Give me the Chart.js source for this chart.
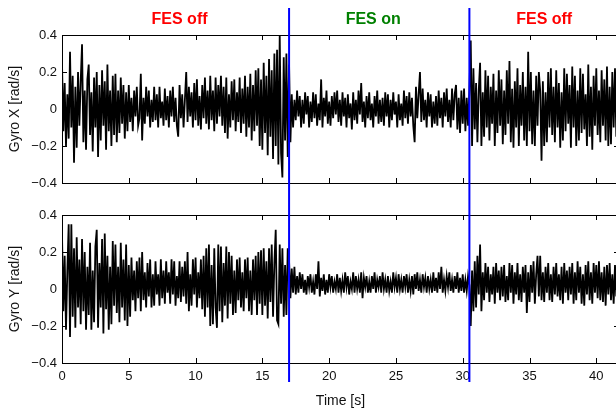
<!DOCTYPE html>
<html>
<head>
<meta charset="utf-8">
<script src="https://cdn.jsdelivr.net/npm/chart.js@4"></script>
<style>
html, body { margin: 0; padding: 0; background: #fff; overflow: hidden; width: 616px; height: 410px; }
.panel { position: absolute; left: 0; }
#top { top: 0; }
#bottom { top: 200px; }
</style>
</head>
<body>
<div class="panel" id="top"><canvas id="gyroX" width="624" height="200"></canvas></div>
<div class="panel" id="bottom"><canvas id="gyroY" width="624" height="210"></canvas></div>
<script>
// sample step of the traces [s]
const dt = 0.1

// Gyro X [rad/s], one row per second
const gyroX = [
    0.25,-0.12,0.14,-0.2,0.08,-0.16,0.31,-0.1,0.18,-0.29,
    0.12,-0.21,0.2,-0.09,0.15,0.35,-0.18,0.1,-0.22,0.16,
    0.24,-0.14,0.09,-0.23,0.17,-0.1,0.2,-0.26,0.13,-0.17,
    0.21,-0.09,0.15,-0.22,0.24,-0.12,0.1,-0.2,0.18,-0.14,
    0.19,-0.18,0.1,-0.13,0.17,-0.08,0.13,-0.16,0.09,-0.12,
    0.13,-0.07,0.06,-0.12,0.1,-0.04,0.12,-0.09,-0.05,0.19,
    -0.17,0.06,-0.08,0.12,-0.04,0.1,-0.1,0.05,-0.07,0.12,
    -0.06,0.08,-0.1,0.12,-0.05,0.04,-0.09,0.11,-0.06,0.07,
    -0.1,0.1,-0.04,0.12,-0.07,0.06,-0.09,-0.15,0.13,-0.05,
    0.08,-0.1,0.05,0.2,-0.07,0.12,-0.04,0.09,-0.1,0.14,
    -0.06,0.16,-0.09,0.07,-0.11,0.13,-0.05,0.17,-0.08,0.1,
    -0.11,0.18,-0.06,0.1,-0.12,0.17,-0.08,0.13,-0.04,0.18,
    -0.09,0.12,-0.13,0.17,-0.16,0.08,-0.1,0.15,-0.06,0.16,
    -0.12,0.09,-0.07,0.17,-0.13,0.11,-0.08,0.18,-0.15,0.12,
    -0.1,0.19,-0.17,0.13,-0.12,0.21,-0.09,0.22,-0.2,0.16,
    -0.22,0.25,-0.13,0.18,-0.25,0.27,-0.15,0.21,-0.27,0.3,
    -0.2,0.32,-0.3,0.4,-0.24,-0.37,0.28,-0.17,0.3,-0.26,
    0.24,-0.18,0.08,-0.1,0.05,-0.06,0.1,-0.04,0.07,-0.1,
    0.05,-0.08,0.09,-0.03,0.07,-0.1,0.04,-0.07,0.09,-0.05,
    0.08,-0.09,0.03,-0.06,0.16,-0.1,0.06,-0.04,0.1,-0.08,
    0.04,-0.09,0.07,-0.05,0.09,-0.03,0.1,-0.07,0.05,-0.09,
    0.09,-0.04,0.06,-0.1,0.08,-0.05,0.03,-0.11,0.09,-0.06,
    0.05,-0.08,0.1,-0.03,0.14,-0.07,0.04,-0.1,0.07,-0.05,
    0.09,-0.06,0.03,-0.1,0.07,-0.04,0.1,-0.08,0.05,-0.07,
    0.06,-0.09,0.09,-0.04,0.08,-0.1,0.05,-0.06,0.09,-0.03,
    0.04,-0.1,0.08,-0.06,0.03,-0.09,0.1,-0.05,0.07,-0.08,
    0.09,-0.04,0.06,-0.09,-0.18,0.12,-0.05,0.08,0.2,-0.07,
    0.11,-0.06,0.05,-0.1,0.09,-0.04,0.08,-0.1,0.04,-0.08,
    0.07,-0.09,0.1,-0.05,0.06,-0.1,0.09,-0.04,0.11,-0.07,
    0.05,-0.1,0.11,-0.06,0.08,0.13,-0.11,0.06,-0.13,0.1,
    -0.08,0.11,-0.12,0.06,-0.09,0.1,0.37,-0.2,0.22,-0.11,
    0.14,-0.18,0.1,0.25,-0.2,0.09,-0.15,0.21,-0.1,0.18,
    -0.17,0.12,-0.08,0.19,-0.2,0.1,-0.13,0.21,-0.09,0.16,
    -0.19,0.1,-0.14,0.21,-0.08,0.26,-0.18,0.11,-0.21,0.15,
    -0.1,0.22,-0.2,0.13,-0.09,0.2,-0.17,0.12,-0.2,0.31,
    -0.12,0.2,-0.19,0.1,-0.2,0.18,-0.09,0.2,0.1,-0.28,
    0.15,-0.2,0.09,-0.18,0.2,-0.1,0.22,-0.14,0.12,-0.18,
    0.21,-0.1,0.14,-0.21,0.09,-0.17,0.22,-0.12,0.19,-0.08,
    0.13,-0.21,0.23,-0.1,0.18,-0.2,0.1,-0.17,0.22,-0.13,
    0.19,-0.11,0.08,-0.2,0.24,-0.15,0.12,-0.22,0.18,-0.09,
    0.22,-0.14,0.1,-0.18,0.21,-0.09,0.16,-0.17,0.23,-0.2,
    0.12,-0.19,0.2,-0.1,0.22,-0.15
]

// Gyro Y [rad/s], one row per second
const gyroY = [
    0.3,-0.12,0.18,-0.22,0.1,0.35,-0.26,0.35,-0.15,0.22,
    -0.21,0.28,-0.1,0.16,-0.19,0.27,-0.12,0.2,-0.22,0.12,
    -0.14,0.25,-0.22,0.1,-0.18,0.23,0.32,-0.21,0.14,-0.1,
    0.27,-0.24,0.3,-0.11,0.18,-0.22,0.12,-0.19,0.26,-0.09,
    0.24,-0.13,0.12,-0.18,0.25,-0.1,0.16,-0.17,0.24,-0.2,
    0.13,-0.15,0.17,-0.06,0.1,-0.12,0.15,-0.05,0.17,-0.12,
    0.2,-0.06,0.09,-0.1,0.14,-0.04,0.16,-0.1,0.08,-0.09,
    0.15,-0.03,0.08,-0.09,0.16,-0.05,0.1,-0.08,0.15,-0.02,
    0.09,-0.08,0.16,-0.03,0.15,-0.09,0.07,-0.05,0.15,-0.07,
    0.12,-0.04,0.15,-0.08,0.2,-0.12,0.08,-0.09,0.16,-0.03,
    0.17,-0.1,0.09,-0.05,0.16,-0.11,0.18,-0.15,0.22,-0.1,
    0.24,-0.2,0.13,-0.19,0.22,-0.1,-0.21,0.24,-0.12,0.23,
    -0.18,0.14,-0.09,0.23,-0.16,0.2,-0.08,0.18,-0.14,0.1,
    -0.13,0.16,-0.06,0.17,-0.1,0.09,-0.12,0.16,-0.05,0.17,
    -0.12,0.1,-0.14,0.16,-0.06,0.18,-0.14,0.2,-0.08,0.21,
    -0.14,0.22,-0.09,0.15,-0.16,0.22,-0.07,0.24,-0.15,0.14,
    0.32,-0.17,-0.19,0.24,-0.08,0.22,-0.15,0.13,-0.14,0.22,
    0.15,-0.05,0.11,-0.02,0.12,-0.03,0.07,-0.02,0.09,0.0,
    0.08,-0.02,0.05,-0.03,0.07,0.01,0.08,-0.02,0.04,-0.03,
    0.08,0.0,0.15,-0.04,0.06,-0.01,0.08,-0.03,0.05,-0.02,
    0.08,0.01,0.07,-0.02,0.04,0.0,0.08,-0.02,0.06,-0.01,
    0.05,-0.02,0.09,0.01,0.07,-0.03,0.04,0.0,0.09,-0.02,
    0.07,0.0,0.05,-0.02,0.09,-0.05,0.06,0.01,0.07,-0.02,
    0.04,-0.02,0.07,0.0,0.09,-0.02,0.05,0.01,0.07,-0.02,
    0.09,0.0,0.05,-0.02,0.07,-0.01,0.04,-0.02,0.09,0.01,
    0.06,-0.02,0.08,0.0,0.05,-0.02,0.07,0.01,0.08,-0.02,
    0.05,-0.01,0.07,-0.03,0.08,0.0,0.09,-0.01,0.05,-0.02,
    0.08,0.01,0.06,-0.02,0.07,0.0,0.05,-0.02,0.09,-0.01,
    0.06,-0.02,0.09,0.0,0.12,-0.02,0.05,-0.01,0.07,0.01,
    0.09,-0.01,0.05,-0.02,0.07,0.0,0.09,-0.02,0.06,-0.01,
    0.08,-0.02,0.05,-0.01,0.07,0.02,-0.2,0.1,-0.12,0.15,
    -0.1,0.18,-0.03,0.24,-0.12,0.09,-0.06,0.14,-0.02,0.12,
    -0.07,0.08,-0.03,0.12,-0.08,0.14,-0.02,0.1,-0.06,0.12,
    -0.04,0.13,-0.07,0.07,-0.06,0.14,-0.02,0.13,-0.08,0.09,
    -0.03,0.14,-0.06,0.08,-0.07,0.12,-0.02,0.13,-0.13,0.09,
    -0.07,0.13,-0.02,0.15,-0.08,0.08,0.18,-0.04,0.18,-0.06,
    0.09,-0.07,0.12,-0.02,0.14,-0.06,0.08,-0.07,0.12,-0.03,
    0.14,-0.04,0.08,-0.06,0.12,-0.08,0.14,-0.02,0.1,-0.06,
    0.12,-0.03,0.14,-0.08,0.09,-0.06,0.15,-0.02,0.12,-0.08,
    0.08,-0.09,0.13,-0.03,0.15,-0.06,0.09,-0.08,0.14,-0.02,
    0.13,-0.05,0.15,-0.06,0.09,-0.07,0.12,-0.09,0.13,-0.03,
    0.14,-0.06,0.08,-0.08,0.13,-0.04
]

const xMax = 41.7
const xTicks = [0, 5, 10, 15, 20, 25, 30, 35, 40]
const yTicks = [-0.4, -0.2, 0, 0.2, 0.4]
const yTickLabels = ['\u22120.4', '\u22120.2', '0', '0.2', '0.4']

// FES switching instants [s] and the phase captions
const fesSwitchTimes = [17.0, 30.5]
const phaseLabels = ['FES off', 'FES on', 'FES off']
const phaseLabelTimes = [8.8, 23.3, 36.1]
const phaseColors = ['#ff0000', '#008000', '#ff0000']

const FONT = '"Liberation Sans", Arial, Helvetica, sans-serif'

const toPoints = arr => arr.map((v, i) => ({ x: Math.round(i * dt * 10) / 10, y: v }))

const framePlugin = {
    id: 'frame',
    afterDatasetsDraw(chart, args, opts) {
        const { ctx, chartArea: a } = chart
        const x = chart.scales.x
        const y = chart.scales.y
        ctx.save()
        ctx.strokeStyle = '#000'
        ctx.lineWidth = 1
        ctx.beginPath()
        xTicks.forEach(v => {
            const px = Math.round(x.getPixelForValue(v)) + 0.5
            ctx.moveTo(px, a.top); ctx.lineTo(px, a.top + 5)
            ctx.moveTo(px, a.bottom); ctx.lineTo(px, a.bottom - 5)
        })
        yTicks.forEach(v => {
            const py = Math.round(y.getPixelForValue(v)) + 0.5
            ctx.moveTo(a.left, py); ctx.lineTo(a.left + 5, py)
            ctx.moveTo(a.right, py); ctx.lineTo(a.right - 5, py)
        })
        ctx.stroke()
        ctx.strokeRect(Math.round(a.left) + 0.5, Math.round(a.top) + 0.5,
            Math.round(a.right - a.left), Math.round(a.bottom - a.top))

        // FES switching lines
        ctx.strokeStyle = '#0000ff'
        ctx.lineWidth = 2
        ctx.beginPath()
        fesSwitchTimes.forEach(t => {
            const px = x.getPixelForValue(t)
            ctx.moveTo(px, opts.lineTop)
            ctx.lineTo(px, opts.lineBottom)
        })
        ctx.stroke()

        if (opts.captions) {
            ctx.font = 'bold 16px ' + FONT
            ctx.textAlign = 'center'
            ctx.textBaseline = 'middle'
            phaseLabels.forEach((s, i) => {
                ctx.fillStyle = phaseColors[i]
                ctx.fillText(s, x.getPixelForValue(phaseLabelTimes[i]), 20)
            })
        }
        ctx.restore()
    }
}

function makeChart(id, series, yTitle, isBottom, height) {
    const ctx = document.getElementById(id).getContext('2d')
    return new Chart(ctx, {
        type: 'line',
        data: {
            datasets: [{
                data: toPoints(series),
                borderColor: '#000',
                borderWidth: 1.8,
                pointRadius: 0,
                fill: false,
                tension: 0
            }]
        },
        plugins: [framePlugin],
        options: {
            responsive: false,
            animation: false,
            events: [],
            layout: { padding: { top: isBottom ? 15 : 35, bottom: isBottom ? 0 : 17, left: 0, right: 5 } },
            plugins: {
                legend: { display: false },
                tooltip: { enabled: false },
                frame: {
                    lineTop: isBottom ? 0 : 8,
                    lineBottom: isBottom ? 182 : height,
                    captions: !isBottom
                }
            },
            scales: {
                x: {
                    type: 'linear',
                    min: 0,
                    max: xMax,
                    display: isBottom,
                    afterBuildTicks: s => { s.ticks = xTicks.map(v => ({ value: v })) },
                    afterFit: s => { s.height = isBottom ? 47 : 0 },
                    grid: { display: false, drawTicks: false },
                    border: { display: false },
                    ticks: {
                        padding: 6,
                        color: '#111',
                        maxRotation: 0,
                        font: { family: FONT, size: 13 }
                    },
                    title: {
                        display: true,
                        text: 'Time [s]',
                        color: '#111',
                        padding: { top: 0, bottom: 0 },
                        font: { family: FONT, size: 14 }
                    }
                },
                y: {
                    min: -0.4,
                    max: 0.4,
                    afterBuildTicks: s => { s.ticks = yTicks.map(v => ({ value: v })) },
                    afterFit: s => { s.width = 62 },
                    grid: { display: false, drawTicks: false },
                    border: { display: false },
                    ticks: {
                        padding: 5,
                        color: '#111',
                        font: { family: FONT, size: 13 },
                        callback: v => yTickLabels[yTicks.findIndex(t => Math.abs(t - v) < 1e-9)]
                    },
                    title: {
                        display: true,
                        text: yTitle,
                        color: '#111',
                        padding: { top: 7, bottom: 0 },
                        font: { family: FONT, size: 14 }
                    }
                }
            }
        }
    })
}

makeChart('gyroX', gyroX, 'Gyro X [rad/s]', false, 200)
makeChart('gyroY', gyroY, 'Gyro Y [rad/s]', true, 210)
</script>
</body>
</html>
